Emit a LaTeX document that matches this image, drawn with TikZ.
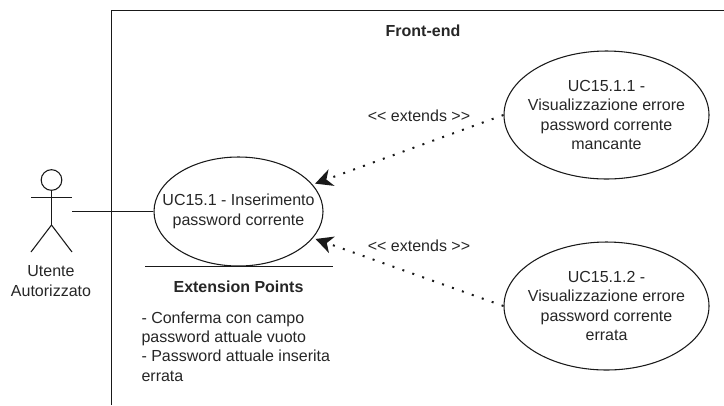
\documentclass[tikz,border=0pt]{standalone}
\usepackage{fontspec}
\setmainfont{Liberation Sans}
\usetikzlibrary{shapes.geometric,arrows.meta}
\tikzset{
  x=0.75pt,y=-0.75pt,
  every path/.style={line width=0.8pt},
  usecase/.style={draw=black!90,ellipse,inner sep=0pt},
  casetext/.style={align=center,inner sep=0pt,font=\fontsize{12}{14.6}\selectfont,text=black!85},
  label/.style={align=center,inner sep=0pt,font=\fontsize{12}{15}\selectfont,text=black!85},
  listtext/.style={align=left,inner sep=0pt,anchor=west,font=\fontsize{12}{14.4}\selectfont,text=black!85},
  titletext/.style={inner sep=0pt,font=\fontsize{12}{14}\selectfont\bfseries,text=black!85},
  extends/.style={draw=black!90,line width=1.5pt,dash pattern=on 1.5pt off 6.4pt,
    -{Stealth[length=13pt,width=13pt,inset=4pt]},shorten >=2pt},
  solid line/.style={draw=black!90},
}
\begin{document}
\begin{tikzpicture}
\useasboundingbox (0,0) rectangle (724,405);
% frame
\coordinate (fb) at (111.5,405);
\coordinate (ft) at (111.5,10.5);
\coordinate (fr) at (724,10.5);
\draw[solid line] (fb) -- (ft) -- (fr);
\node[titletext] (front) at (423,31) {Front-end};
% use cases
\node[usecase,minimum width=126.75pt,minimum height=81.75pt] (main) at (238.5,211.5) {};
\node[casetext] (mainT) at (main) {UC15.1 - Inserimento\\password corrente};
\node[usecase,minimum width=153.75pt,minimum height=96pt] (ucA) at (606.5,115) {};
\node[casetext] (ucAT) at (ucA) {UC15.1.1 -\\Visualizzazione errore\\password corrente\\mancante};
\node[usecase,minimum width=153.75pt,minimum height=96pt] (ucB) at (606.5,306) {};
\node[casetext] (ucBT) at (ucB) {UC15.1.2 -\\Visualizzazione errore\\password corrente\\errata};
% actor
\node[draw=black!90,circle,minimum size=15.5pt,inner sep=0pt] (head) at (51.5,180) {};
\coordinate (hip) at (51.5,225);
\coordinate (armL) at (31,197.5);
\coordinate (armR) at (72,197.5);
\coordinate (legL) at (31,252);
\coordinate (legR) at (72,252);
\coordinate (hand) at (72,211.5);
\draw[solid line] (head.south) -- (hip);
\draw[solid line] (armL) -- (armR);
\draw[solid line] (legL) -- (hip) -- (legR);
\node[label] (actor) at (51,281) {Utente\\Autorizzato};
% connectors
\draw[solid line] (hand) -- (main.west);
\draw[extends] (ucA.west) -- (main);
\draw[extends] (ucB.west) -- (main);
\node[label] (extA) at (419,115.5) {<{}< extends >{}>};
\node[label] (extB) at (419,245.5) {<{}< extends >{}>};
% extension points
\coordinate (sepL) at (145,266.5);
\coordinate (sepR) at (333,266.5);
\draw[solid line] (sepL) -- (sepR);
\node[titletext] (ext) at (238.5,287) {Extension Points};
\node[listtext] (list) at (141,346.5) {- Conferma con campo\\password attuale vuoto\\- Password attuale inserita\\errata};
\end{tikzpicture}
\end{document}
